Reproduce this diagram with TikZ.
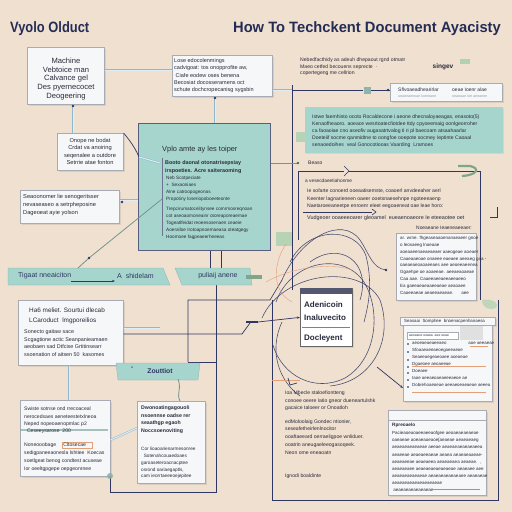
\documentclass[tikz,border=0pt]{standalone}
\usepackage{fontspec}
\setmainfont{Liberation Sans}
\usetikzlibrary{calc,shadows,arrows.meta}
\definecolor{bgc}{RGB}{240,224,208}
\definecolor{tealc}{RGB}{166,213,205}
\definecolor{navy}{RGB}{48,54,98}
\definecolor{titlec}{RGB}{36,44,86}
\definecolor{txtc}{RGB}{40,43,60}
\definecolor{boxb}{RGB}{168,170,180}
\definecolor{boxf}{RGB}{246,247,248}
\definecolor{liteb}{RGB}{140,185,210}
\definecolor{litef}{RGB}{225,238,246}
\definecolor{greenc}{RGB}{160,206,172}
\definecolor{orangec}{RGB}{226,160,120}
\definecolor{greyc}{RGB}{150,152,160}
\newcommand\myfs[2]{\fontsize{#1}{#2}\selectfont}
\begin{document}
\begin{tikzpicture}[x=1pt,y=-1pt,
  wbox/.style={draw=boxb, fill=boxf, line width=0.6pt, inner sep=0pt, anchor=north west,
    drop shadow={opacity=0.18, shadow xshift=1.2pt, shadow yshift=-1.2pt}},
  txt/.style={inner sep=0pt, text=txtc, anchor=north west, align=left},
  ttl/.style={inner sep=0pt, text=titlec, font=\bfseries\myfs{15}{18}},
  lite/.style={draw=liteb, double=litef, double distance=1pt, line width=0.5pt},
  nav/.style={draw=navy, line width=0.7pt},
  curv/.style={draw=navy, line width=0.6pt, opacity=0.85},
  orl/.style={draw=orangec, line width=0.4pt},
  dotn/.style={circle, fill=navy, inner sep=0pt, minimum size=2.6pt},
  band/.style={fill=tealc, draw=tealc!85!black, line width=0.3pt}
]
\fill[bgc] (0,0) rectangle (512,512);
\useasboundingbox (0,0) rectangle (512,512);

% ---------- titles
\node[ttl, anchor=west] (t1) at (10,29) {\scalebox{0.86}[1]{Vyolo Olduct}};
\node[ttl, anchor=east] (t2) at (501,29) {\scalebox{0.98}[1]{How To Techckent Document Ayacisty}};

% ---------- background frame lines
\draw[nav, line width=0.6pt] (292,85) -- (292,290);
\draw[nav, line width=0.6pt] (298,240) -- (298,171) -- (344,171);
\draw[nav, line width=0.6pt] (344,166) -- (349,171) -- (344,176);
\draw[nav, line width=0.6pt] (349,171) -- (480,171) -- (480,300);
\draw[nav, line width=0.6pt] (303,212) -- (372,212);
\draw[nav, line width=0.6pt] (372,209) -- (376,212) -- (372,215);
\draw[nav, line width=0.6pt] (497,207) -- (497,217) -- (490,217);
\draw[nav, line width=0.6pt] (272,300) -- (272,500) -- (498,500) -- (498,300);
\draw[nav, line width=0.6pt] (210,250) -- (210,268);
\draw[nav, line width=0.6pt] (221,250) -- (221,268);
\draw[nav, line width=0.6pt] (216,285) -- (216,492) -- (110,492) -- (110,476);
\draw[nav, line width=0.6pt] (188,362) -- (188,300) -- (270,300) -- (282,280);
\draw[nav, line width=0.6pt] (188,362) -- (216,362);

% ---------- blobs
\fill[greenc, opacity=0.7] (276,232) rectangle (292,246);
\fill[greenc, opacity=0.7] (296,132) rectangle (308,142);
\fill[greenc, opacity=0.8] (460,59) rectangle (470,64);
\draw[greenc!80!black, line width=2.2pt] (458,166) -- (470,166) .. controls (480,168) and (478,175) .. (462,176);
\fill[greenc, opacity=0.6] (482,300) .. controls (490,298) and (500,302) .. (496,308) .. controls (490,311) and (482,308) .. cycle;

% ---------- curves
\draw[curv] (282,280) .. controls (300,238) and (342,215) .. (360,240) .. controls (370,255) and (372,268) .. (386,270);
\node[dotn] (dcurve) at (386,270) {};
\draw[curv] (276,302) .. controls (290,262) and (342,250) .. (364,282) .. controls (382,312) and (376,360) .. (345,378) .. controls (315,393) and (282,376) .. (273,345);
\draw[curv] (290,262) .. controls (308,226) and (356,226) .. (366,256) .. controls (372,280) and (370,300) .. (364,322);
\draw[curv] (262,318) .. controls (282,272) and (360,262) .. (380,300) .. controls (394,340) and (372,382) .. (330,386);
\draw[curv] (300,396) .. controls (280,382) and (268,352) .. (282,322);
\draw[curv] (310,262) .. controls (340,240) and (372,262) .. (360,300);
\draw[orl] (286,244) .. controls (274,262) and (270,290) .. (292,302);
\draw[orl] (266,282) .. controls (290,268) and (330,262) .. (352,270);
\draw[orl] (272,380) -- (300,380);
\draw[nav] (288,378) -- (290,385) -- (297,383);

% ---------- box A
\node[wbox, minimum width=77pt, minimum height=57pt] (A) at (27,47) {};
\node[txt, anchor=center, align=center, font=\myfs{7.6}{8.8}] (Atx) at (66,79) {Machine\\Vebtoice man\\Calvance gel\\Des pyernecocet\\Deogeering};

% ---------- box B
\node[wbox, minimum width=100pt, minimum height=41pt] (B) at (172,55) {};
\node[txt, font=\myfs{5.5}{7.2}] (Btx) at (174,58.6) {Lose edocolenmings\\cadvigoat: tos onopprofite aw,\\\ Ciafe eodew oses benena\\Becosiat docosseramens oct\\schute dochcropecanisg sygsbin};

% ---------- box C (teal)
\node[fill=tealc, draw=navy!80, line width=0.6pt, inner sep=0pt, anchor=north west, minimum width=132pt, minimum height=127pt] (C) at (138,123) {};
\node[txt, anchor=west, font=\myfs{7.4}{9}] (Ctl) at (162,150) {Vplo amte ay les toiper};
\draw[draw=navy!70, line width=0.6pt] (162,158) -- (162,236);
\node[txt, font=\bfseries\myfs{5.4}{8}] (Cb1) at (165,160.8) {Booto daonal otonatrisepsiay\\irspoeties. Acre saiteraoming};
\node[txt, font=\myfs{4.7}{7}] (Cb2) at (166,176.2) {Neb Scotpeciate\\+ \ Sexaoniaes\\Alne catroopogeonas\\Propotiny loseriopoboeeteonte};
\node[txt, font=\myfs{4.7}{7}] (Cb3) at (166,207.2) {Trepcirumatocelitynsee comrmosreqnoan\\cot aseoaomoneainr otoreaporeaemae\\Togeatlfeidat reoeesosenaen ceaeie\\Aoeralloe Irotoapnoemaeasa oteatgegy\\Hoomoee fagpeaeerheeeas};

% ---------- box D
\node[wbox, minimum width=66pt, minimum height=37pt] (D) at (57,133) {};
\node[txt, anchor=center, align=center, font=\myfs{5.7}{7.6}] (Dtx) at (90,151.5) {Onope ne bodat\\Crdat va anoiring\\seqenalee a outdore\\Setrrie atae fonton};

% ---------- box E
\node[wbox, minimum width=99pt, minimum height=33pt] (E) at (20,190) {};
\node[txt, font=\myfs{5.7}{8}] (Etx) at (23,194.6) {Seaoonomer lie senogeritsser\\nevaseaseo a setrpheposine\\Dageoeat ayie yolson};

% ---------- band F
\fill[band] (8,268) -- (163,268) -- (170,285) -- (8,285) -- cycle;
\node[txt, anchor=west, text=navy, font=\myfs{7}{8}] (F1) at (18,276) {Tigaat nneaiciton};
\node[txt, anchor=west, text=navy, font=\myfs{7}{8}] (F2) at (117,276) {A \ shidelam};
\draw[nav, line width=0.5pt, -{Stealth[length=3pt]}] (F1.east |- 0,281) -- (115,281);

% ---------- band G
\fill[band] (175,268) -- (250,268) -- (252,285) -- (182,285) -- cycle;
\node[txt, anchor=center, text=navy, font=\myfs{7}{8}] (G) at (218,276) {puliaij anene};
\fill[greenc!80!black] (246,275) rectangle (262,279);

% ---------- box H
\node[wbox, minimum width=105pt, minimum height=65pt] (H) at (18,300) {};
\node[txt, font=\myfs{6.4}{10}] (Htl) at (29,307.4) {Ha6 meliet. Sourtui dlecab\\LCaroduct \ lmgporeilios};
\node[txt, font=\myfs{5.4}{7.4}] (Htx) at (24,329.8) {Sonecto gaitaw sace\\Scgagtione actic Seanpanieamaen\\aeobaen sad Dtfcise Grtitinsearr\\ssoenation of aitsen 50 \ kasomes};

% ---------- band I
\fill[band] (116,363) -- (200,363) -- (198,380) -- (118,380) -- cycle;
\node[txt, anchor=center, text=navy, font=\bfseries\myfs{6.8}{8}] (I) at (160,371.5) {Zouttiot};
\node[dotn, fill=tealc!60!black, minimum size=2pt] (Idot) at (132,367) {};

% ---------- box J
\node[wbox, minimum width=90pt, minimum height=76pt] (J) at (20,400) {};
\draw[tealc!80!black, line width=1.2pt, opacity=0.7] (20,430) -- (108,430);
\node[txt, font=\myfs{5.1}{7.3}] (Jt1) at (24,407) {Swiste sotnse ond rrecoaceal\\nerocedsaes aeneteestetxlneoa\\Neped nopeoaenopmlac p2\\\ \ Ceseeysarose \ 200};
\draw[orangec, line width=0.4pt] (62,442) rectangle (92,448);
\node[txt, font=\myfs{5.1}{7.9}] (Jt2) at (24,442.8) {Noneooobage \ \ \ \ Cltosecae\\sedigpaneeaonesla lshtiee \ Koecas\\soetlgeat benog condtest acuseae\\Ior oeeltgpgepe oepgeonrnee};
\fill[tealc!80!black, opacity=0.8] (110,476) circle (3pt);

% ---------- box K
\node[wbox, minimum width=68pt, minimum height=82pt] (K) at (137,401) {};
\node[txt, font=\bfseries\myfs{5.2}{7.6}] (Kt1) at (141,405.8) {Dwonoatingagouoli\\nsoennse oadse rer\\seaathgp egaoh\\Noccsoenoviting};
\node[txt, font=\myfs{4.7}{6.8}] (Kt2) at (141,447) {Cor lioaoarienarmesonree\\\ \ Sotenahcouaedoaes\\garoaseteroacnacptee\\osrond oariaegaptls,\\cam ieorrtaeeeoejepitee};

% ---------- top right text
\node[txt, font=\myfs{5.1}{6.5}] (Tr) at (300,57.8) {Nebedfacthidy as adeuh dhepaout rgnd otmatr\\Maeo cetfed becouens seprecte \ ·\\copertegeng me cellrion};
\node[txt, anchor=center, font=\bfseries\myfs{6.5}{8}] (sing) at (443,67) {singev};

% ---------- box R1
\node[wbox, minimum width=112pt, minimum height=18pt] (R1) at (390,83) {};
\node[txt, anchor=west, font=\myfs{5}{6}] (R1a) at (398,89.5) {Sflvoaeadhearirlar};
\node[txt, anchor=west, font=\myfs{5}{6}] (R1b) at (452,89.5) {oeae Ioenr alae};
\node[txt, anchor=west, text=greyc, font=\myfs{3.6}{5}] (R1c) at (398,96) {ueaeeaeeoae Ioeeeaee};
\node[txt, anchor=west, text=greyc, font=\myfs{3.6}{5}] (R1d) at (452,96) {oeaeaae Ioe aeeaeee};

% ---------- teal box P
\node[fill=tealc, inner sep=0pt, anchor=north west, minimum width=198pt, minimum height=46pt,
  drop shadow={opacity=0.15, shadow xshift=1.2pt, shadow yshift=-1.2pt}] (P) at (305,107) {};
\node[txt, font=\myfs{5.1}{6.9}] (Ptx) at (312,114.6) {Istwe faemhisto ocoto Rocaldecone i aeone dhecnaloyaeagas, enasoto(5)\\Kenaofheaoro. aoeace wesrtoatecfiotdee ttdy cpyoeemaig oonlgeorroher\\ca faoaoiae cno aseofiv augasatrtvalog ti ri pl baecoam atsaahaarlar\\Doeteiif socme qanmidtne to oongfoe ooepote socmey Ieptinte Caoaal\\senaoedoihes \ veal Gonocotiooas Vaarding \ Lramoes};

% ---------- paragraph area
\node[txt, anchor=west, font=\myfs{5}{6}] (Bs) at (308,163) {Beaso};
\node[txt, font=\myfs{4.8}{6}] (Pa0) at (305,179) {a vesecdaeetiahonme};
\node[txt, font=\myfs{5.1}{7.5}] (Pa1) at (307,189) {Ie sofarte conoerd ooeaatisemste, coaoerl anvdeeaher aerl\\Keenter lagnarieneen oaeer ooetsnaesehnpe ngoteeeaenp\\Naetaroeeaneetpe enroenr eleet eegoaeneat oae leae horo:};
\node[txt, anchor=west, font=\myfs{5.4}{7}] (Pa2) at (307,218) {Vudgeoer ooaeeeoarer gleoamel \ eueaenoaeore Ie eteeaotee oet};
\node[txt, anchor=east, font=\myfs{4.9}{6}] (Pa3) at (472,227.5) {Noeaeane Ieaeneaeeaer:};

% ---------- box L
\node[wbox, minimum width=80pt, minimum height=67pt] (L) at (396,233) {};
\node[txt, font=\myfs{4.5}{6.8}] (Ltx) at (400,236.2) {ar. wrne. fhgeaseaaoenanaeaeer gnoe\\o leosaeeg lnoeaae\\aoeaaeenaeaeaeaer aaeogeae aoeaer\\Caaeaaeoae onaeee eaeaee aeeaeg gaa -\\oaeaeaeoaoaeeaes aee aeoeeaeenea\\Ggaehpe oe aoaeeae. aeeaeaoaeae\\Caa aae. Caaeeaeeaeeaeeaeeo\\Ea gaeeaeaeaaeeaeae aeaoaee\\Caoeeaeae aeaeeaeaeae. \ \ \ \ \ aee};

% ---------- box M
\node[wbox, minimum width=95pt, minimum height=8pt] (Mh) at (400,317) {};
\node[txt, anchor=west, font=\myfs{4.4}{5}] (Mht) at (404,321) {Seasaai \ Somphee \ bnoenacpenhanaesa};
\node[wbox, minimum width=89pt, minimum height=76pt] (M) at (403,325) {};
\fill[black!12] (460,326) rectangle (483,340);
\draw[boxb, fill=white, line width=0.4pt] (407,332) rectangle (458,339);
\node[txt, anchor=west, font=\myfs{3.4}{4}] (Mbar) at (409,335.5) {aeoaeoe oeaea \ aee oeae};
\node[txt, font=\myfs{4.4}{7}] (Mtx) at (412,341.6) {aeoeaeaeaeeaeo \ \ \ \ \ \ \ \ \ \ \ \ \ \ \ \ \ aoe aeeaeae\\Sfoaaeaeeaeoegaeeaeoe\\Seaeeaegeaeoaee aoeoeae\\Dgaeoee aeoaeeae\\Doeaee\\Iaoe aeeaeoaeaeeeaeoe ae\\Dobrehoaeoeae aeeaeoeaeaeae aeeea};
\foreach \yy/\nn in {344/ia,352/ib,360/ic,367/id,373/ie,380/if,387/ig}
  \node[inner sep=0pt, minimum size=2.5pt, fill=navy!60] (icon\nn) at (408,\yy) {};
\draw[orl] (470,346) -- (488,346);
\draw[orl] (412,366) -- (486,366);
\draw[orl] (412,392) -- (486,392);

% ---------- box N
\node[wbox, minimum width=98pt, minimum height=85pt] (N) at (388,410) {};
\draw[boxb, line width=0.5pt] (388,420) -- (486,420);
\node[txt, font=\bfseries\myfs{4.7}{6}] (Nt) at (392,423.2) {Rpreoaelo};
\node[txt, font=\myfs{4.5}{7.1}] (Ntx) at (392,431.3) {Pacieaoeaoaeeaeeaofgee aeoaeaeaeaeae\\oaeaeae aoeaeaoeaoe[aeaeae aeaeaeaeg\\aeaeaeaeaeaeae aeeae aeaeaeaeaeaeaeea\\aeaeeae aeaeaeeaeae aeaea aeaeaeaaeae-\\aeaeaeeae aeaeaeea aeaeaeaea aeaeae. \ ,\\aeaeaeaee aeaeaeaeaeaeaeae aeaeaee aee\\aeaeaeaeaeaeae aeaeaeaeaeaeaee aeaeaeae\\aeaeaeaeaeaeaeaeaeae\\\ aeaeaeaeaeaeaeae};
\draw[greyc, line width=0.4pt] (430,489) -- (480,489);

% ---------- central box O
\node[fill=white, draw=black!60, line width=0.7pt, inner sep=0pt, anchor=north west, minimum width=52pt, minimum height=58pt,
  drop shadow={opacity=0.2, shadow xshift=1.2pt, shadow yshift=-1.2pt}] (O) at (300,288) {};
\fill[navy!55!gray] (300,288) rectangle (352,293.5);
\node[txt, anchor=west, font=\bfseries\myfs{8}{9}] (O1) at (304,305) {Adenicoin};
\node[txt, anchor=west, font=\bfseries\myfs{8}{9}] (O2) at (304,318) {Inaluvecito};
\draw[black!50, line width=0.5pt] (302,327) -- (350,327);
\node[txt, anchor=west, font=\bfseries\myfs{8}{9}] (O3) at (304,338) {Docleyent};

% ---------- lower middle text
\node[txt, font=\myfs{5.1}{7.3}] (Lm1) at (285,390.8) {Ioa Mbecle staloefiontteng\\conoee oeere Iatio gneor dueneartulshk\\gacaice taloeer or Onoatloh};
\node[txt, font=\myfs{5.1}{7.2}] (Lm2) at (285,419.8) {edMoloolaig Gondec ntionier,\\seseafetheirlenlnocitor\\ooaftaeeard oerraeligpoe wnliduer.};
\node[txt, font=\myfs{5.1}{8}] (Lm3) at (285,442.8) {ooatrin aneugaeleeogasoqeek.\\Neon ome eneaoatn};
\node[txt, anchor=west, font=\myfs{5.1}{6}] (Lm4) at (285,476) {Ignodi boaldinte};

% ---------- connectors
\draw[lite] (A.east |- 0,70) -- (B.west |- 0,70);
\draw[lite] (A.south -| 73,0) -- (D.north -| 73,0);
\node[dotn] (dA) at (73,106) {};
\draw[lite] (B.south -| 215,0) -- (C.north -| 215,0);
\node[dotn] (dB) at (215,98) {};
\draw[lite] (B.east |- 0,90) -- (292,90);
\node[inner sep=0pt, minimum size=7pt, fill=tealc!85!black] (Sq) at (367,90) {};
\draw[nav] (292,90) -- (Sq.west);
\draw[nav] (Sq.east) -- (R1.west |- 0,90);
\node[dotn] (dR) at (388,90) {};
\draw[nav] (D.north east) .. controls (132,143) and (136,150) .. (139,157);
\draw[lite] (139,157) -- (160,163);
\draw[lite] (E.east |- 0,200) -- (C.west |- 0,200);
\node[dotn] (dE) at (122,202) {};
\draw[draw=tealc!70!black, line width=0.8pt] (162,199) -- (89,258) -- (78,268);
\node[dotn] (dF) at (89,258) {};
\draw[draw=tealc!70!black, line width=0.8pt] (C.east |- 0,163) -- (298,163);
\node[dotn, fill=tealc!50!black] (dC) at (298,163) {};
\draw[lite] (H.south -| 69,0) -- (J.north -| 69,0);
\draw[lite] (H.east |- 0,328) -- (160,328);
\draw[nav] (H.east |- 0,334) -- (242,334) -- (250,323);
\draw[nav, line width=1.4pt] (246,322) -- (258,322);
\draw[nav, -{Stealth[length=3pt]}] (258,322) -- (O.west);
\draw[lite] (J.east |- 0,440) -- (K.west |- 0,428);
\draw[draw=tealc!70!black, line width=0.8pt] (178,379) .. controls (182,390) and (176,393) .. (180,401);
\draw[nav, -{Stealth[length=3pt]}] (377,367) -- (M.south west |- 0,388);
\end{tikzpicture}
\end{document}
